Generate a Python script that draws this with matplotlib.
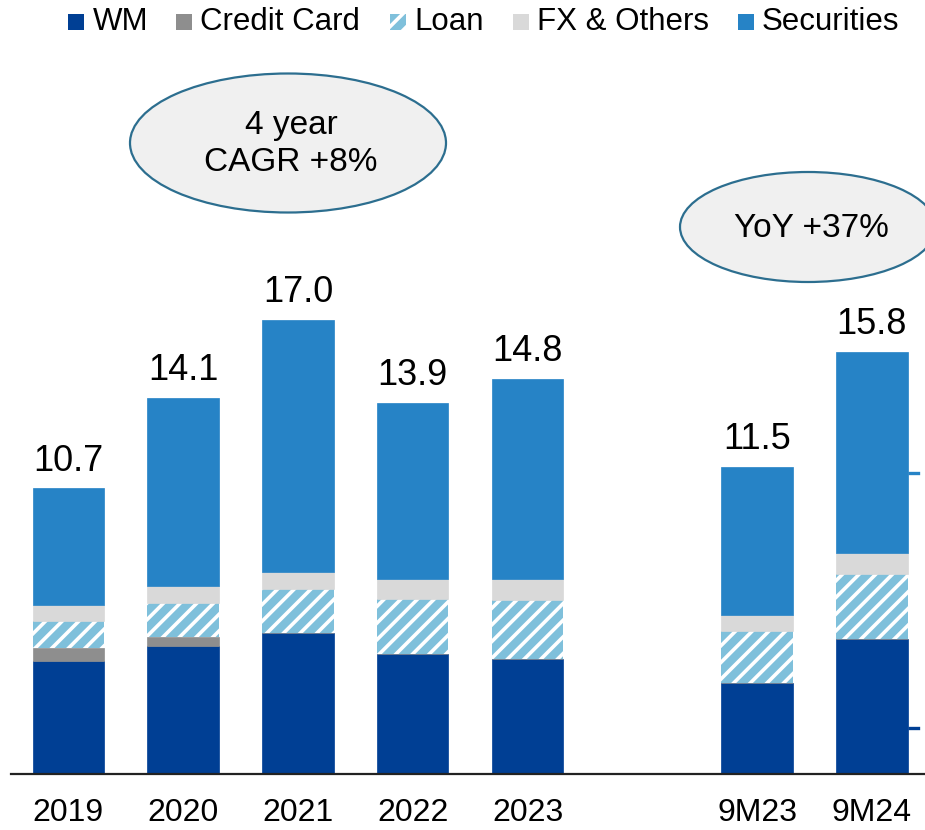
import matplotlib
matplotlib.use("Agg")
import matplotlib.pyplot as plt
from matplotlib.patches import Ellipse, Rectangle
import numpy as np

plt.rcParams['font.family'] = ['Liberation Sans', 'DejaVu Sans']
plt.rcParams['hatch.linewidth'] = 2.6

# ---- data ----
categories = ['2019', '2020', '2021', '2022', '2023', '9M23', '9M24']
wm = [4.23, 4.79, 5.28, 4.49, 4.31, 3.41, 5.06]
credit_card = [0.49, 0.34, 0.0, 0.0, 0.0, 0.0, 0.0]
loan = [1.01, 1.27, 1.65, 2.06, 2.21, 1.95, 2.43]
fx_others = [0.60, 0.64, 0.64, 0.75, 0.79, 0.60, 0.79]
securities = [4.37, 7.06, 9.43, 6.60, 7.49, 5.54, 7.52]
totals = ['10.7', '14.1', '17.0', '13.9', '14.8', '11.5', '15.8']
series_names = ['WM', 'Credit Card', 'Loan', 'FX & Others', 'Securities']
connector_levels = [11.27, 1.72]
callouts = ['4 year\nCAGR +8%', 'YoY +37%']

# ---- style ----
C_WM = '#003f94'
C_CC = '#8e8e8e'
C_LOAN = '#7fc0db'
C_FX = '#d9d9d9'
C_SEC = '#2683c6'
colors = [C_WM, C_CC, C_LOAN, C_FX, C_SEC]

W, H = 925, 830
fig = plt.figure(figsize=(W / 100, H / 100), dpi=100)

def fx(px):
    return px / W

def fy(py):
    return 1 - py / H

base_px = 774
scale = 26.7
ax = fig.add_axes([fx(11), fy(base_px), fx(925) - fx(11), fy(0) - fy(base_px)])
x0_px, unit_px = 68.3, 114.8
ax.set_xlim((11 - x0_px) / unit_px, (925 - x0_px) / unit_px)
ax.set_ylim(0, base_px / scale)

pos = np.array([0, 1, 2, 3, 4, 6, 7], dtype=float)
bw = 0.623
bottom = np.zeros(len(categories))
for name, vals, col in zip(series_names, [wm, credit_card, loan, fx_others, securities], colors):
    vals = np.array(vals)
    if name == 'Loan':
        ax.bar(pos, vals, bw, bottom=bottom, color=C_LOAN, edgecolor='white',
               hatch='//', linewidth=0, zorder=2)
    else:
        ax.bar(pos, vals, bw, bottom=bottom, color=col, edgecolor=col,
               linewidth=0.5, zorder=2)
    bottom = bottom + vals

for x, top, lab in zip(pos, bottom, totals):
    ax.annotate(lab, (x, top), xytext=(0, 7), textcoords='offset points',
                ha='center', va='bottom', fontsize=26, color='black')

# connector dashes at right edge
xr = pos[-1] + bw / 2
for lvl, col in zip(connector_levels, [C_SEC, C_WM]):
    ax.plot([xr, ax.get_xlim()[1] + 0.2], [lvl, lvl], color=col, lw=2.4,
            linestyle=(0, (3.5, 1.8)), clip_on=False, zorder=3)

ax.set_xticks(pos)
ax.set_xticklabels(categories, fontsize=23)
ax.tick_params(axis='x', length=0, pad=17)
ax.set_yticks([])
for s in ['top', 'right', 'left']:
    ax.spines[s].set_visible(False)
ax.spines['bottom'].set_linewidth(1.6)
ax.spines['bottom'].set_color('#222222')

# ---- callout ellipses ----
ell_specs = [((288, 143), 316, 139, (291, 144)), ((808, 227), 256, 110, (811, 228))]
for (cx, cy), ew, eh, (tx, ty), txt in [(a, b, c, d, t) for (a, b, c, d), t in zip(ell_specs, callouts)]:
    e = Ellipse((fx(cx), fy(cy)), ew / W, eh / H, transform=fig.transFigure,
                facecolor='#f0f0f0', edgecolor='#2c6e8f', linewidth=1.6, zorder=5)
    fig.patches.append(e)
    fig.text(fx(tx), fy(ty), txt, ha='center', va='center', fontsize=24,
             linespacing=1.25, zorder=6)

# ---- legend (manual) ----
sq_left = [68, 176, 390, 513, 738]
txt_left = [92.7, 200, 414, 537, 762]
for name, col, sl, tl in zip(series_names, colors, sq_left, txt_left):
    if name == 'Loan':
        r = Rectangle((fx(sl), fy(30)), 16 / W, 16 / H, transform=fig.transFigure,
                      facecolor=C_LOAN, edgecolor='white', hatch='//', linewidth=0)
    else:
        r = Rectangle((fx(sl), fy(30)), 16 / W, 16 / H, transform=fig.transFigure,
                      facecolor=col, edgecolor='none')
    fig.patches.append(r)
    fig.text(fx(tl), fy(22), name, ha='left', va='center', fontsize=22.5)

fig.savefig('out.png', dpi=100)
